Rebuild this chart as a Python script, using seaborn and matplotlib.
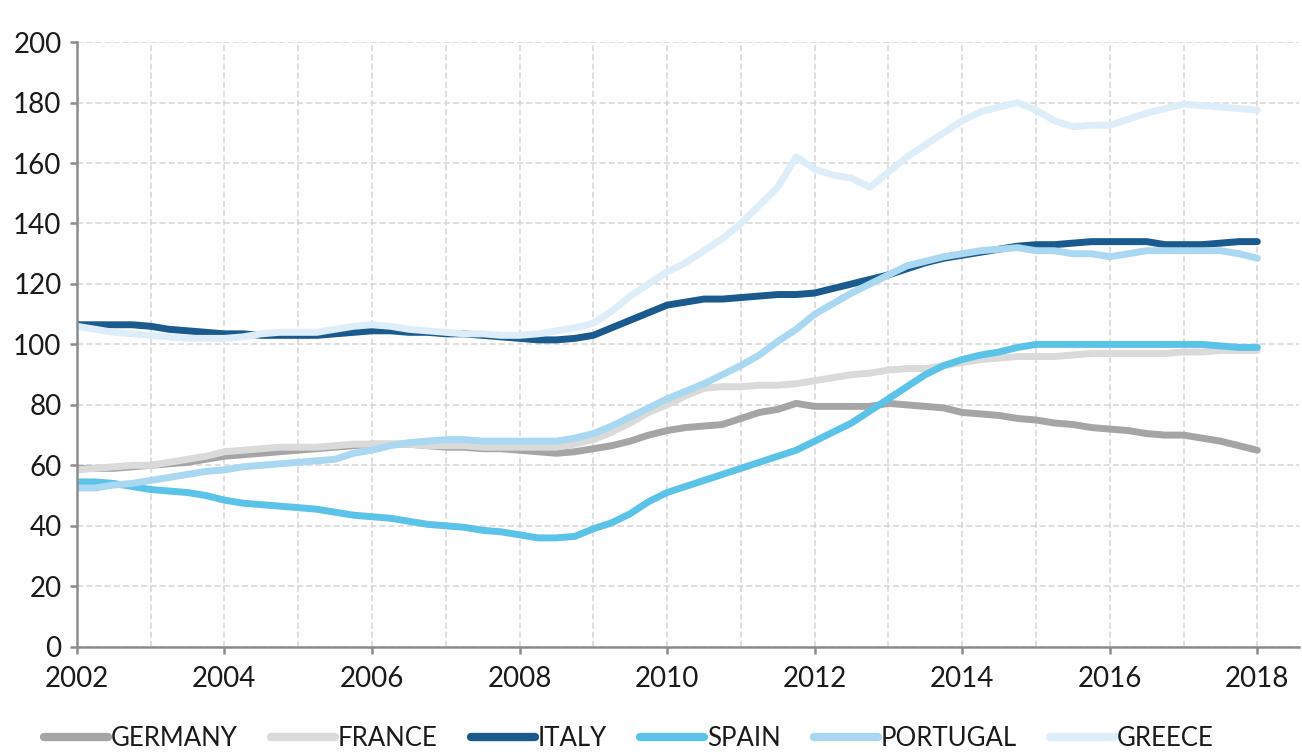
import numpy as np
import pandas as pd
import matplotlib
matplotlib.use("Agg")
import matplotlib.pyplot as plt
from matplotlib.ticker import MultipleLocator
import seaborn as sns

# Quarterly observations, 2002 Q1 .. 2018 Q1
years = [2002 + 0.25 * i for i in range(65)]

germany = [59, 59, 59, 59.5, 60, 60.5, 61, 62, 63, 63.5, 64, 64.5, 65, 65.5, 66, 66.5,
           67, 67, 67, 66.5, 66, 66, 65.5, 65.5, 65, 64.5, 64, 64.5, 65.5, 66.5, 68, 70,
           71.5, 72.5, 73, 73.5, 75.5, 77.5, 78.5, 80.5, 79.5, 79.5, 79.5, 79.5, 80.5, 80, 79.5, 79,
           77.5, 77, 76.5, 75.5, 75, 74, 73.5, 72.5, 72, 71.5, 70.5, 70, 70, 69, 68, 66.5, 65]
france = [58.5, 59, 59.5, 60, 60, 61, 62, 63, 64.5, 65, 65.5, 66, 66, 66, 66.5, 67,
          67, 67, 67, 66.5, 66.5, 66.5, 66, 66, 66, 66, 66, 67, 68.5, 71, 74, 77.5,
          80, 83, 85.5, 86, 86, 86.5, 86.5, 87, 88, 89, 90, 90.5, 91.5, 92, 92, 93,
          94, 95, 95.5, 96, 96, 96, 96.5, 97, 97, 97, 97, 97, 97.5, 97.5, 98, 98, 98]
italy = [106.5, 106.5, 106.5, 106.5, 106, 105, 104.5, 104, 103.5, 103.5, 103, 103, 103, 103, 103.5, 104,
         104.5, 104.5, 104, 104, 103.5, 103.5, 103, 102.5, 102, 101.5, 101.5, 102, 103, 105.5, 108, 110.5,
         113, 114, 115, 115, 115.5, 116, 116.5, 116.5, 117, 118.5, 120, 121.5, 123, 125, 127, 128.5,
         129.5, 130.5, 131.5, 132.5, 133, 133, 133.5, 134, 134, 134, 134, 133, 133, 133, 133.5, 134, 134]
spain = [54.5, 54.5, 54, 53, 52, 51.5, 51, 50, 48.5, 47.5, 47, 46.5, 46, 45.5, 44.5, 43.5,
         43, 42.5, 41.5, 40.5, 40, 39.5, 38.5, 38, 37, 36, 36, 36.5, 39, 41, 44, 48,
         51, 53, 55, 57, 59, 61, 63, 65, 68, 71, 74, 78, 82, 86, 90, 93,
         95, 96.5, 97.5, 99, 100, 100, 100, 100, 100, 100, 100, 100, 100, 100, 99.5, 99, 99]
portugal = [52.5, 52.5, 53.5, 54, 55, 56, 57, 58, 58.5, 59.5, 60, 60.5, 61, 61.5, 62, 64,
            65, 66.5, 67.5, 68, 68.5, 68.5, 68, 68, 68, 68, 68, 69, 70.5, 73, 76, 79,
            82, 84.5, 87, 90, 93, 96.5, 101, 105, 110, 113.5, 117, 120, 123, 126, 127.5, 129,
            130, 131, 131.5, 132, 131, 131, 130, 130, 129, 130, 131, 131, 131, 131, 131, 130, 128.5]
greece = [106, 105, 104, 103.5, 103, 102.5, 102, 102, 102, 102.5, 103.5, 104, 104, 104, 105, 106,
          106.5, 106, 105, 104.5, 104, 103.5, 103.5, 103, 103, 103.5, 104.5, 105.5, 107, 111, 116, 120,
          124, 127, 131, 135, 140, 146, 152, 162, 158, 156, 155, 152, 157, 162, 166, 170,
          174, 177, 178.5, 180, 177.5, 174, 172, 172.5, 172.5, 174.5, 176.5, 178, 179.5, 179, 178.5, 178, 177.5]

countries = ["GERMANY", "FRANCE", "ITALY", "SPAIN", "PORTUGAL", "GREECE"]
series = [germany, france, italy, spain, portugal, greece]
colors = ["#a5a5a5", "#dadada", "#1a5a8c", "#5bc3e8", "#a9d8f0", "#ddeef8"]

df = pd.DataFrame({
    "year": np.tile(years, len(countries)),
    "value": np.concatenate(series),
    "country": np.repeat(countries, len(years)),
})

sns.set_theme(style="white")
plt.rcParams["font.family"] = ["Lato", "DejaVu Sans"]

fig = plt.figure(figsize=(13.02, 7.52), dpi=100)
ax = fig.add_axes([0.059, 0.14, 0.939, 0.804])

sns.lineplot(data=df, x="year", y="value", hue="country", hue_order=countries,
             palette=dict(zip(countries, colors)), linewidth=5, ax=ax,
             legend=False, solid_capstyle="round")

ax.set_xlim(2002, 2018.57)
ax.set_ylim(0, 200)
ax.xaxis.set_major_locator(MultipleLocator(2))
ax.xaxis.set_minor_locator(MultipleLocator(1))
ax.yaxis.set_major_locator(MultipleLocator(20))

grid_kw = dict(color="#d6d6d6", linestyle=(0, (4, 2)), linewidth=1.1)
ax.grid(True, which="both", axis="x", **grid_kw)
ax.grid(True, which="major", axis="y", **grid_kw)
ax.set_axisbelow(True)

for side in ("top", "right"):
    ax.spines[side].set_visible(False)
for side in ("left", "bottom"):
    ax.spines[side].set_color("#8c8c8c")
    ax.spines[side].set_linewidth(1.8)

ax.tick_params(axis="both", which="major", length=5, width=1.8, color="#8c8c8c",
               labelsize=20, labelcolor="#1a1a1a", pad=6)
ax.tick_params(axis="x", which="major", pad=9)
ax.tick_params(axis="x", which="minor", length=0)
ax.tick_params(axis="x", which="major", direction="out", bottom=True)
ax.tick_params(axis="y", which="major", direction="out", left=True)
ax.set_xlabel("")
ax.set_ylabel("")

handles = [plt.Line2D([], [], color=c, linewidth=6, solid_capstyle="round") for c in colors]
fig.legend(handles, countries, loc="lower center", bbox_to_anchor=(0.483, -0.03), ncol=6,
           frameon=False, fontsize=18.5, handlelength=2.5, handletextpad=0.1,
           columnspacing=1.3, labelcolor="#1a1a1a")

fig.savefig("out.png", dpi=100)
